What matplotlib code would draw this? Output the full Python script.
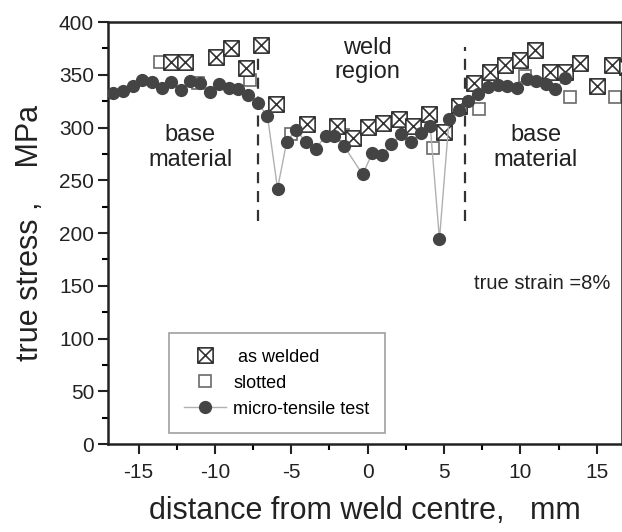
import matplotlib
matplotlib.use("Agg")
import matplotlib.pyplot as plt
from matplotlib.path import Path
from matplotlib.ticker import MultipleLocator

plt.rcParams['font.family'] = ['Liberation Sans', 'DejaVu Sans']
plt.rcParams['axes.unicode_minus'] = False

# micro-tensile test
mt_x = [-16.65, -16.03, -15.38, -14.77, -14.1, -13.46, -12.9, -12.2, -11.6, -11.0,
        -10.35, -9.72, -9.1, -8.47, -7.86, -7.2, -6.56, -5.9, -5.3, -4.7,
        -4.05, -3.4, -2.75, -2.2, -1.55, -0.33, 0.3, 0.96, 1.55, 2.2,
        2.85, 3.5, 4.1, 4.7, 5.33, 5.95, 6.6, 7.25, 7.85, 8.5,
        9.15, 9.77, 10.4, 11.05, 11.65, 12.27, 12.92]
mt_y = [333, 334.6, 339, 345, 343, 337.7, 343, 335.5, 344, 342.5,
        334, 341, 337.8, 336.5, 330.8, 323, 311, 242, 286.5, 297.6,
        286.5, 280, 292, 292, 282.5, 255.5, 275.5, 274, 284, 293.5,
        286.5, 295, 301, 194, 308, 316.5, 325.5, 332, 338.7, 340.5,
        339, 337, 345.8, 344, 341.5, 336.3, 346.5]

# as welded
aw_x = [-12.9, -11.96, -9.93, -8.95, -7.95, -6.99, -5.97, -3.99, -2.0, -0.95,
        0.05, 1.02, 2.03, 3.0, 4.0, 5.0, 5.95, 6.95, 8.0, 9.0,
        10.0, 10.98, 11.96, 12.94, 13.9, 15.0, 16.0, 16.95]
aw_y = [362, 362, 367, 375, 356, 378, 322.5, 303, 301, 290.5,
        300.5, 304, 308, 301, 313, 295.5, 320.5, 341.8, 353, 359,
        364, 373.6, 353, 353, 361.6, 339.6, 359, 357]

# slotted
sl_x = [-13.6, -11.1, -7.7, -5.0, -1.6, 4.3, 7.28, 10.3, 13.27, 16.2]
sl_y = [362, 342, 345, 294, 293, 281, 317.3, 348.5, 328.5, 328.5]

# boundaries of weld region
bound_x = [-7.2, 6.4]
bound_y = [211, 376]

fig = plt.figure(figsize=(6.22, 5.32), dpi=100)
ax = fig.add_axes([0.1736, 0.1654, 0.8264, 0.7932])

box_x = Path([(-1, -1), (1, -1), (1, 1), (-1, 1), (-1, -1),
              (-1, -1), (1, 1), (-1, 1), (1, -1)],
             [Path.MOVETO, Path.LINETO, Path.LINETO, Path.LINETO, Path.CLOSEPOLY,
              Path.MOVETO, Path.LINETO, Path.MOVETO, Path.LINETO])

ax.plot(sl_x, sl_y, linestyle='none', marker='s', markersize=9,
        markerfacecolor='white', markeredgecolor='#6a6a6a', markeredgewidth=1.2,
        label='slotted', zorder=2)
ax.plot(aw_x, aw_y, linestyle='none', marker=box_x, markersize=11,
        markerfacecolor='white', markeredgecolor='#333333', markeredgewidth=1.2,
        label=' as welded', zorder=3)
ax.plot(mt_x, mt_y, color='#b0b0b0', linewidth=1.0, marker='o', markersize=8.5,
        markerfacecolor='#444444', markeredgecolor='#444444',
        label='micro-tensile test', zorder=4)

for bx in bound_x:
    ax.plot([bx, bx], bound_y, color='#333333', linewidth=1.6,
            linestyle=(0, (5, 3.5)), zorder=1)

ax.text(-11.6, 281, 'base\nmaterial', ha='center', va='center', fontsize=17,
        linespacing=1.15, color='#222222')
ax.text(11.0, 281, 'base\nmaterial', ha='center', va='center', fontsize=17,
        linespacing=1.15, color='#222222')
ax.text(0.0, 364, 'weld\nregion', ha='center', va='center', fontsize=17,
        linespacing=1.15, color='#222222')
ax.text(15.9, 152, 'true strain =8%', ha='right', va='center', fontsize=14.5,
        color='#222222')

ax.set_xlim(-17, 16.65)
ax.set_ylim(0, 400)
ax.xaxis.set_major_locator(MultipleLocator(5))
ax.xaxis.set_minor_locator(MultipleLocator(2.5))
ax.yaxis.set_major_locator(MultipleLocator(50))
ax.yaxis.set_minor_locator(MultipleLocator(25))
ax.tick_params(axis='both', which='major', direction='out', length=7, width=1.5,
               labelsize=15, colors='#222222')
ax.tick_params(axis='both', which='minor', direction='out', length=4, width=1.5)
ax.tick_params(axis='x', pad=7)
ax.tick_params(axis='y', pad=3)
for s in ax.spines.values():
    s.set_linewidth(1.8)
    s.set_color('#222222')

ax.set_xlabel('distance from weld centre,   mm', fontsize=22, labelpad=10,
              color='#222222')
ax.set_ylabel('true stress ,    MPa', fontsize=22, labelpad=10, color='#222222')

handles, labels = ax.get_legend_handles_labels()
order = [1, 0, 2]
leg = ax.legend([handles[i] for i in order], [labels[i] for i in order],
                loc='lower left', bbox_to_anchor=(0.119, 0.026), fontsize=13,
                frameon=True, fancybox=False, edgecolor='#888888',
                borderpad=0.85, labelspacing=0.5, handlelength=2.3,
                handletextpad=0.4, borderaxespad=0)
leg.get_frame().set_linewidth(1.2)

fig.savefig('out.png', dpi=100)
